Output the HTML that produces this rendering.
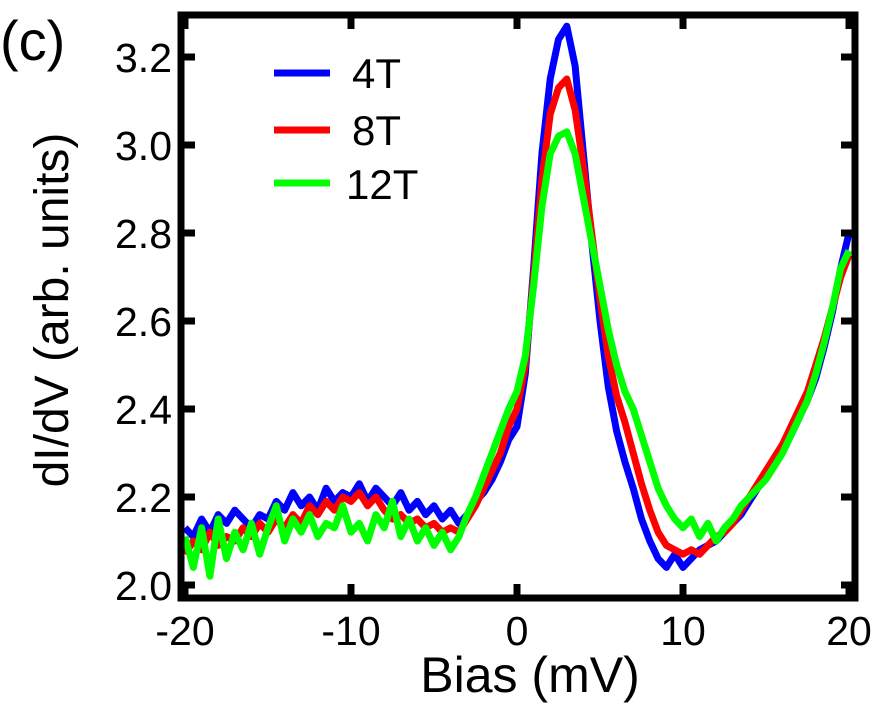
<!DOCTYPE html>
<html><head><meta charset="utf-8"><style>
html,body{margin:0;padding:0;background:#fff;}
svg{display:block;font-family:"Liberation Sans",Arial,sans-serif;}
</style></head><body>
<svg id="chart" width="879" height="708" viewBox="0 0 879 708" xmlns="http://www.w3.org/2000/svg">
<g id="series"></g>
<rect x="181" y="15" width="674" height="583" fill="none" stroke="#000" stroke-width="7"/>
<g id="ticks"></g>
<text x="0" y="60" font-size="56">(c)</text>
<text x="530" y="692" font-size="50" text-anchor="middle">Bias (mV)</text>
<text transform="translate(68,310) rotate(-90)" font-size="48" text-anchor="middle">dI/dV (arb. units)</text>
<g>
<line x1="274" y1="73" x2="330" y2="73" stroke="#0000ff" stroke-width="7"/>
<text x="352" y="88" font-size="42">4T</text>
<line x1="274" y1="130" x2="330" y2="130" stroke="#ff0000" stroke-width="7"/>
<text x="352" y="145" font-size="42">8T</text>
<line x1="274" y1="183" x2="330" y2="183" stroke="#00ff00" stroke-width="7"/>
<text x="346" y="199" font-size="42">12T</text>
</g>
</svg>
<script>
const bias=[-20,-19.5,-19,-18.5,-18,-17.5,-17,-16.5,-16,-15.5,-15,-14.5,-14,-13.5,-13,-12.5,-12,-11.5,-11,-10.5,-10,-9.5,-9,-8.5,-8,-7.5,-7,-6.5,-6,-5.5,-5,-4.5,-4,-3.5,-3,-2.5,-2,-1.5,-1,-0.5,0,0.5,1,1.5,2,2.5,3,3.5,4,4.5,5,5.5,6,6.5,7,7.5,8,8.5,9,9.5,10,10.5,11,11.5,12,12.5,13,13.5,14,14.5,15,15.5,16,16.5,17,17.5,18,18.5,19,19.5,20];
const s4T=[2.13,2.11,2.15,2.12,2.16,2.14,2.17,2.15,2.13,2.16,2.15,2.19,2.17,2.21,2.18,2.2,2.17,2.22,2.19,2.21,2.2,2.23,2.19,2.22,2.2,2.18,2.21,2.17,2.19,2.16,2.18,2.15,2.17,2.14,2.16,2.19,2.21,2.24,2.28,2.33,2.36,2.48,2.72,2.98,3.15,3.24,3.27,3.18,2.98,2.78,2.6,2.45,2.35,2.28,2.22,2.15,2.1,2.06,2.04,2.07,2.04,2.06,2.08,2.09,2.1,2.12,2.14,2.16,2.19,2.22,2.25,2.28,2.31,2.34,2.38,2.42,2.47,2.54,2.62,2.72,2.8];
const s8T=[2.07,2.1,2.08,2.12,2.09,2.11,2.1,2.13,2.11,2.14,2.12,2.15,2.13,2.16,2.14,2.18,2.16,2.19,2.17,2.2,2.19,2.21,2.18,2.2,2.17,2.15,2.16,2.14,2.15,2.13,2.14,2.12,2.13,2.12,2.15,2.18,2.22,2.26,2.3,2.36,2.4,2.5,2.7,2.92,3.07,3.13,3.15,3.08,2.95,2.8,2.65,2.52,2.43,2.37,2.3,2.23,2.17,2.12,2.09,2.08,2.07,2.08,2.07,2.09,2.11,2.12,2.14,2.17,2.2,2.23,2.26,2.29,2.32,2.36,2.4,2.44,2.5,2.56,2.63,2.7,2.75];
const s12T=[2.11,2.04,2.13,2.02,2.15,2.06,2.12,2.08,2.14,2.07,2.13,2.18,2.1,2.15,2.12,2.16,2.11,2.14,2.13,2.18,2.12,2.14,2.1,2.16,2.13,2.19,2.11,2.15,2.1,2.13,2.09,2.12,2.08,2.11,2.16,2.2,2.25,2.3,2.35,2.4,2.44,2.52,2.68,2.86,2.98,3.02,3.03,2.98,2.88,2.78,2.68,2.58,2.5,2.44,2.4,2.34,2.28,2.22,2.18,2.15,2.13,2.15,2.11,2.14,2.1,2.13,2.15,2.18,2.2,2.22,2.24,2.27,2.3,2.34,2.38,2.42,2.48,2.55,2.63,2.72,2.76];
const xTicks=[-20,-10,0,10,20];
const yTicks=[2.0,2.2,2.4,2.6,2.8,3.0,3.2];
const xTickLabels=["-20","-10","0","10","20"];
const yTickLabels=["2.0","2.2","2.4","2.6","2.8","3.0","3.2"];

function xs(v){return 517+v*16.6;}
function ys(v){return 585-(v-2.0)*440;}
const NS="http://www.w3.org/2000/svg";
const sg=document.getElementById('series');
function drawSeries(vals,color,name){
  const p=document.createElementNS(NS,'path');
  let d='';
  for(let i=0;i<bias.length;i++){d+=(i?'L':'M')+xs(bias[i]).toFixed(1)+','+ys(vals[i]).toFixed(1);}
  p.setAttribute('d',d);p.setAttribute('fill','none');p.setAttribute('stroke',color);
  p.setAttribute('stroke-width','7');p.setAttribute('stroke-linejoin','round');
  
  
  sg.appendChild(p);
}
drawSeries(s4T,'#0000ff','series-4t');
drawSeries(s8T,'#ff0000','series-8t');
drawSeries(s12T,'#00ff00','series-12t');
const tg=document.getElementById('ticks');
xTicks.forEach((v,i)=>{
  const x=xs(v);
  [[598,584],[15,29]].forEach(([a,b])=>{
    const l=document.createElementNS(NS,'line');
    l.setAttribute('x1',x);l.setAttribute('x2',x);l.setAttribute('y1',a);l.setAttribute('y2',b);
    l.setAttribute('stroke','#000');l.setAttribute('stroke-width','7');
    
    
    tg.appendChild(l);
  });
  const t=document.createElementNS(NS,'text');
  t.setAttribute('x',x);t.setAttribute('y',645);t.setAttribute('font-size','41');t.setAttribute('text-anchor','middle');
  t.textContent=xTickLabels[i];
  
  
  tg.appendChild(t);
});
yTicks.forEach((v,i)=>{
  const y=ys(v);
  [[181,195],[855,841]].forEach(([a,b])=>{
    const l=document.createElementNS(NS,'line');
    l.setAttribute('x1',a);l.setAttribute('x2',b);l.setAttribute('y1',y);l.setAttribute('y2',y);
    l.setAttribute('stroke','#000');l.setAttribute('stroke-width','7');
    
    
    tg.appendChild(l);
  });
  const t=document.createElementNS(NS,'text');
  t.setAttribute('x',172);t.setAttribute('y',y+15);t.setAttribute('font-size','41');t.setAttribute('text-anchor','end');
  t.textContent=yTickLabels[i];
  
  
  tg.appendChild(t);
});
</script>
</body></html>
